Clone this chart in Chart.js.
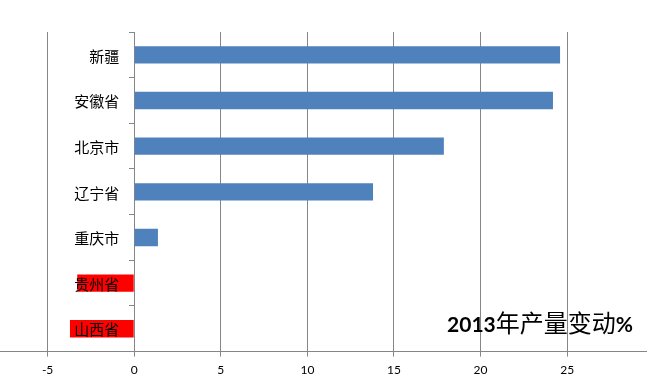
<!DOCTYPE html>
<html>
<head>
<meta charset="utf-8">
<script src="https://cdn.jsdelivr.net/npm/chart.js@4/dist/chart.umd.min.js"></script>
<style>
  body { margin: 0; background: #fff; }
  #wrap { width: 647px; height: 385px; }
</style>
</head>
<body>
<div id="wrap"><canvas id="barChart"></canvas></div>
<script>
const provinces = ['新疆', '安徽省', '北京市', '辽宁省', '重庆市', '贵州省', '山西省'];
const changes = [24.59, 24.18, 17.88, 13.79, 1.37, -3.29, -3.71];
const xTicks = [-5, 0, 5, 10, 15, 20, 25];
const titleYear = '2013';
const titleWords = '年产量变动';
const titleUnit = '%';

const gridGray = '#868686';

// province names sit left of the zero line, drawn over the bars
const provinceLabels = {
    id: 'provinceLabels',
    afterDatasetsDraw(chart) {
        const ctx = chart.ctx;
        const xScale = chart.scales.x;
        const yScale = chart.scales.y;
        const x0 = xScale.getPixelForValue(0);
        ctx.save();
        ctx.font = '15px "Noto Sans CJK SC"';
        ctx.fillStyle = '#000';
        ctx.textAlign = 'right';
        ctx.textBaseline = 'middle';
        provinces.forEach((name, i) => {
            ctx.fillText(name, x0 - 15, yScale.getPixelForTick(i) + 1);
        });
        ctx.restore();
    }
};

const cornerTitle = {
    id: 'cornerTitle',
    afterDraw(chart) {
        const ctx = chart.ctx;
        const area = chart.chartArea;
        const parts = [
            [titleYear, 'bold 21px "Liberation Sans Narrow", Lato'],
            [titleWords, '24px "Noto Sans CJK SC"'],
            [titleUnit, 'bold 21px "Liberation Sans Narrow", Lato']
        ];
        ctx.save();
        ctx.fillStyle = '#000';
        ctx.textBaseline = 'alphabetic';
        ctx.textAlign = 'left';
        let total = 0;
        parts.forEach(p => { ctx.font = p[1]; total += ctx.measureText(p[0]).width; });
        let x = area.right - 14 - total;
        const y = area.bottom - 20;
        parts.forEach(p => {
            ctx.font = p[1];
            ctx.fillText(p[0], x, y);
            x += ctx.measureText(p[0]).width;
        });
        ctx.restore();
    }
};

function showBarChart() {
    const barData = {
        labels: provinces,
        datasets: [{
            data: changes,
            backgroundColor: changes.map(v => v < 0 ? '#ff0000' : '#4f81bd'),
            barPercentage: 0.38,
            categoryPercentage: 1
        }]
    };
    const barConfig = {
        type: 'bar',
        data: barData,
        options: {
            indexAxis: 'y',
            animation: false,
            responsive: true,
            maintainAspectRatio: false,
            layout: { padding: { top: 32, bottom: 2, left: 0, right: 0 } },
            plugins: {
                legend: { display: false },
                tooltip: { enabled: false }
            },
            scales: {
                x: {
                    min: -7.75,
                    max: 29.61,
                    afterBuildTicks: axis => {
                        axis.ticks = xTicks.map(v => ({ value: v }));
                    },
                    grid: { color: gridGray, tickLength: 5 },
                    border: { color: gridGray },
                    ticks: {
                        color: '#000',
                        padding: 6,
                        font: { family: 'Lato', size: 12 }
                    }
                },
                y: {
                    position: { x: 0 },
                    grid: { display: true, drawOnChartArea: false, color: gridGray, tickLength: 5 },
                    border: { color: gridGray },
                    ticks: { display: false }
                }
            }
        },
        plugins: [provinceLabels, cornerTitle]
    };
    let barChart = new Chart(document.getElementById('barChart'), barConfig);
}

showBarChart();
</script>
</body>
</html>
